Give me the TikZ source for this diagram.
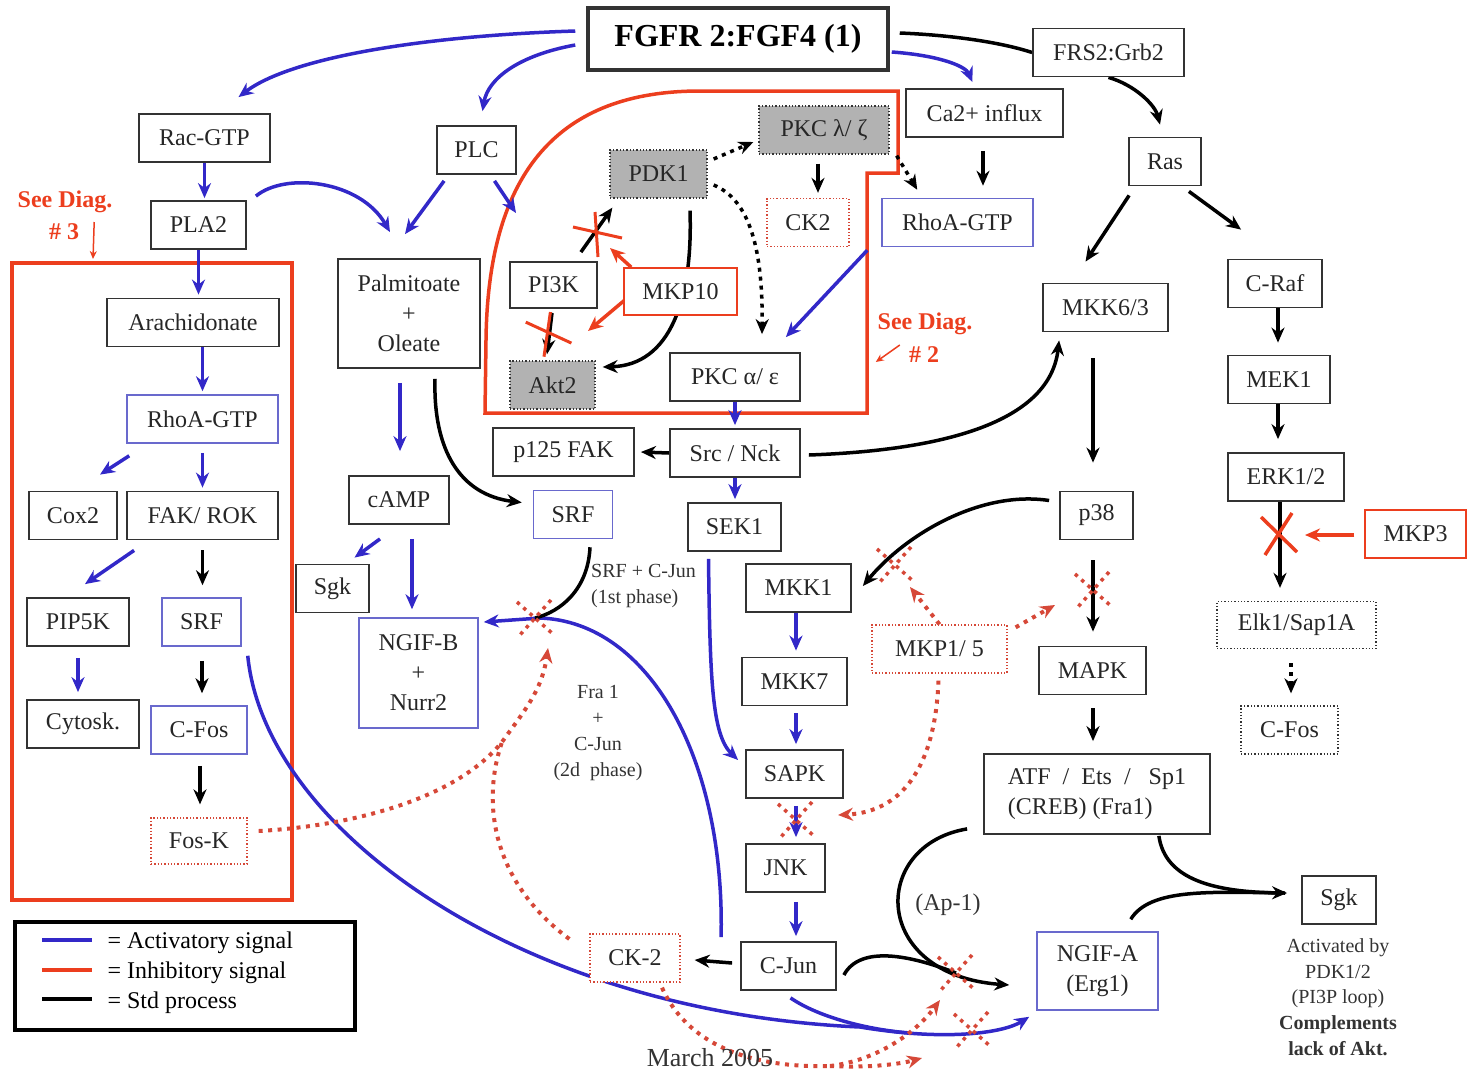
\documentclass[tikz,border=0pt]{standalone}
\usepackage{fontspec}
\setmainfont{Liberation Serif}
\usetikzlibrary{arrows.meta,calc,backgrounds}
\definecolor{actblue}{RGB}{50,40,200}
\definecolor{inhred}{RGB}{236,62,30}
\definecolor{dotred}{RGB}{214,72,56}
\definecolor{boxblue}{RGB}{105,105,205}
\definecolor{boxgrey}{RGB}{178,178,178}

\tikzset{
  box/.style={draw=black!80,line width=1.8pt,fill=white,minimum height=48pt,inner sep=2pt,
    text=black!85,font=\fontsize{24}{30}\selectfont,align=center},
  bluebox/.style={box,draw=boxblue,line width=1.5pt},
  redbox/.style={box,draw=inhred,line width=1.5pt},
  reddotbox/.style={box,draw=dotred,line width=1.3pt,dotted},
  greybox/.style={box,fill=boxgrey,line width=1.3pt,dotted},
  dotbox/.style={box,line width=1.3pt,dotted},
  act/.style={draw=actblue,line width=3.5pt,->},
  std/.style={draw=black,line width=3.5pt,->},
  stddot/.style={std,dash pattern=on 4pt off 5pt},
  inh/.style={draw=inhred,line width=3.5pt,->},
  inhdot/.style={draw=dotred,line width=4pt,dash pattern=on 4pt off 5.5pt,->},
  note/.style={text=black!80,inner sep=0pt,font=\fontsize{20}{25.8}\selectfont,align=center},
  seediag/.style={text=inhred,inner sep=0pt,font=\bfseries\fontsize{24}{29}\selectfont},
  dotx/.pic={\draw[dotred,line width=3.5pt,dash pattern=on 3.5pt off 5pt] (-18,-16)--(18,16) (16,-18)--(-16,18);},
  cutx/.pic={\draw[inhred,line width=3pt] (-24,-6)--(25,5) (-2,-21)--(1,24);},
  bigx/.pic={\draw[inhred,line width=3.5pt] (-19,-16)--(17,19) (12,-20)--(-15,22);},
}

\begin{document}
\begin{tikzpicture}[x=1pt,y=-1pt,>={Stealth[length=15pt,width=13pt]},line join=miter]
\useasboundingbox (0,0) rectangle (1470,1072);

% group outlines
\begin{pgfonlayer}{background}
\node[draw=inhred,line width=4pt,minimum width=280pt,minimum height=637pt] (grpThree) at (152,581.5) {};
\draw[inhred,line width=3.5pt] (485,413) -- (486,340) .. controls (488,170) and (560,91) .. (700,91)
  -- (898,91) -- (898,173) -- (867,173) -- (867,413) -- cycle;
\end{pgfonlayer}

\node[box,line width=3.5pt,minimum width=300pt,minimum height=62pt,text=black,
  font=\bfseries\fontsize{32}{38}\selectfont] (fgfr) at (738,39) {FGFR 2:FGF4 (1)};
\node[box,minimum width=151pt] (frs) at (1108.5,52.5) {FRS2:Grb2};
\node[box,minimum width=157pt] (ca) at (984.5,113) {Ca2+ influx};
\node[box,minimum width=72pt] (ras) at (1165,161.5) {Ras};
\node[bluebox,minimum width=151pt] (rhoR) at (957.5,222.5) {RhoA-GTP};
\node[greybox,minimum width=130pt] (pkcLZ) at (824,130) {PKC λ/ ζ};
\node[greybox,minimum width=97pt] (pdk) at (658.5,174) {PDK1};
\node[reddotbox,minimum width=82pt] (ckTwo) at (808,222.5) {CK2};
\node[box,minimum width=87pt,minimum height=46pt] (pik) at (553.5,285) {PI3K};
\node[redbox,minimum width=113pt,minimum height=47pt] (mkpTen) at (680.5,291.5) {MKP10};
\node[greybox,minimum width=85pt] (akt) at (552.5,385) {Akt2};
\node[box,minimum width=130pt] (pkcAE) at (735,377) {PKC α/ ε};
\node[box,minimum width=131pt] (rac) at (204.5,138) {Rac-GTP};
\node[box,minimum width=95pt] (pla) at (198.5,225) {PLA2};
\node[box,minimum width=79pt] (plc) at (476.5,150) {PLC};
\node[box,minimum width=142pt,minimum height=109pt] (palm) at (409,313.5) {Palmitoate\\+\\Oleate};
\node[box,minimum width=172pt] (arach) at (193,322.5) {Arachidonate};
\node[bluebox,minimum width=151pt] (rhoL) at (202.5,419) {RhoA-GTP};
\node[box,minimum width=88pt] (cox) at (73,515.5) {Cox2};
\node[box,minimum width=151pt] (fak) at (202.5,515.5) {FAK/ ROK};
\node[box,minimum width=102pt] (pip) at (78,622) {PIP5K};
\node[bluebox,minimum width=79pt] (srfL) at (201.5,622) {SRF};
\node[box,minimum width=112pt] (cyto) at (83,724) {Cytosk.};
\node[bluebox,minimum width=96pt] (cfosL) at (199,730) {C-Fos};
\node[reddotbox,minimum width=96pt,minimum height=46pt] (fosk) at (199,841) {Fos-K};
\node[box,minimum width=100pt] (camp) at (399,500) {cAMP};
\node[box,minimum width=73pt] (sgkL) at (332.5,588.5) {Sgk};
\node[bluebox,minimum width=119pt,minimum height=110pt] (ngifB) at (418.5,673) {NGIF-B\\+\\Nurr2};
\node[box,minimum width=141pt] (pfak) at (563.5,452) {p125 FAK};
\node[box,minimum width=130pt] (src) at (735,453) {Src / Nck};
\node[bluebox,minimum width=79pt] (srfC) at (573,514.5) {SRF};
\node[box,minimum width=93pt] (sek) at (734.5,527) {SEK1};
\node[box,minimum width=105pt] (mkkOne) at (798.5,588) {MKK1};
\node[box,minimum width=105pt] (mkkSeven) at (794.5,681.5) {MKK7};
\node[box,minimum width=97pt] (sapk) at (794.5,774) {SAPK};
\node[box,minimum width=79pt] (jnk) at (785.5,868) {JNK};
\node[box,minimum width=95pt] (cjun) at (788.5,966) {C-Jun};
\node[reddotbox,minimum width=90pt] (ckTwoB) at (635,958) {CK-2};
\node[reddotbox,minimum width=135pt] (mkpOneFive) at (939.5,649) {MKP1/ 5};
\node[box,minimum width=125pt] (mkkSixThree) at (1105.5,307.5) {MKK6/3};
\node[box,minimum width=73pt] (pThirtyEight) at (1096.5,515.5) {p38};
\node[box,minimum width=107pt] (mapk) at (1092.5,670.5) {MAPK};
\node[box,minimum width=226pt,minimum height=80pt,align=left] (atf) at (1097,794)
  {ATF \ / \ Ets \ / \ \ Sp1\\(CREB) (Fra1)};
\node[bluebox,minimum width=121pt,minimum height=78pt] (ngifA) at (1097.5,971) {NGIF-A\\(Erg1)};
\node[box,minimum width=74pt] (sgkR) at (1339,900) {Sgk};
\node[box,minimum width=94pt] (craf) at (1275,283.5) {C-Raf};
\node[box,minimum width=102pt] (mek) at (1279,379.5) {MEK1};
\node[box,minimum width=116pt] (erk) at (1286,477) {ERK1/2};
\node[redbox,minimum width=101pt] (mkpThree) at (1415.5,534) {MKP3};
\node[dotbox,minimum width=159pt,minimum height=47pt] (elk) at (1296.5,625) {Elk1/Sap1A};
\node[dotbox,minimum width=97pt] (cfosR) at (1289.5,730) {C-Fos};

% labels
\node[seediag] (see3a) at (65,202) {See Diag.};
\node[seediag] (see3b) at (64,232) {\# 3};
\node[seediag] (see2a) at (925,324) {See Diag.};
\node[seediag] (see2b) at (924,355) {\# 2};
\node[note,align=left,anchor=west] (lblFirst) at (591,586) {SRF + C-Jun\\(1st phase)};
\node[note] (lblSecond) at (598,733) {Fra 1\\+\\C-Jun\\(2d\ \ phase)};
\node[note,font=\fontsize{24}{28}\selectfont] (lblAp) at (948,905) {(Ap-1)};
\node[note,font=\fontsize{26}{30}\selectfont] (dateLbl) at (710,1058) {March 2005};
\node[note] (sgkNote) at (1338,997)
  {Activated by\\PDK1/2\\(PI3P loop)\\\textbf{Complements}\\\textbf{lack of Akt.}};

% legend
\node[draw=black,line width=4pt,minimum width=340pt,minimum height=108pt,inner sep=0pt] (legend) at (185,976) {};
\draw[actblue,line width=4pt] ($(legend.north west)+(29,20)$) -- ++(50,0);
\draw[inhred,line width=4pt] ($(legend.north west)+(29,50)$) -- ++(50,0);
\draw[black,line width=4pt] ($(legend.north west)+(29,79)$) -- ++(50,0);
\node[anchor=west,font=\fontsize{24}{28}\selectfont] (keyAct) at ($(legend.north west)+(91,23)$) {= Activatory signal};
\node[anchor=west,font=\fontsize{24}{28}\selectfont] (keyInh) at ($(legend.north west)+(91,53)$) {= Inhibitory signal};
\node[anchor=west,font=\fontsize{24}{28}\selectfont] (keyStd) at ($(legend.north west)+(91,83)$) {= Std process};

\coordinate (xPdk) at (597,233);
\coordinate (xAkt) at (548,333);
\coordinate (xErk) at (1280,533);
\coordinate (xNgif) at (535,618);
\coordinate (xMkk) at (895,565);
\coordinate (xMapk) at (1093,590);
\coordinate (xJnk) at (796,820);
\coordinate (xAp) at (956,973);
\coordinate (xBlue) at (972,1030);
\coordinate (redJoin) at (502,742);
\coordinate (ckFork) at (830,1066);
\coordinate (blueJoin) at (910,1033);
\coordinate (plcTip) at (516,213);

\begin{pgfonlayer}{background}
% activatory
\draw[act] ($(fgfr.west)+(-11,-8)$) .. controls (420,36) and (290,58) .. ($(rac.north)+(34,-16)$);
\draw[act] ($(fgfr.west)+(-11,6)$) .. controls (520,55) and (488,78) .. ($(plc.north)+(6,-14)$);
\draw[act] ($(fgfr.east)+(2,13)$) .. controls (935,55) and (965,65) .. ($(ca.north)+(-12,-6)$);
\draw[act] (rac.south) -- ($(rac.south |- pla.north)+(0,-2)$);
\draw[act] ($(pla.north east)+(9,-4)$) .. controls (285,172) and (360,180) .. ($(palm.north)+(-19,-26)$);
\draw[act] ($(plc.south west)+(8,6)$) -- ($(palm.north)+(-4,-24)$);
\draw[act] ($(plc.south)+(18,6)$) -- (plcTip);
\draw[act] (pla.south) -- ($(pla.south |- arach.north)+(0,-3)$);
\draw[act] (rhoL.north |- arach.south) -- ($(rhoL.north)+(0,-3)$);
\draw[act] ($(rhoL.south west)+(3,12)$) -- ($(cox.north)+(27,-16)$);
\draw[act] ($(rhoL.south)+(0,9)$) -- ($(fak.north)+(0,-3)$);
\draw[act] ($(fak.south west)+(8,10)$) -- ($(pip.north)+(7,-13)$);
\draw[act] ($(pip.south)+(0,11)$) -- ($(pip.south |- cyto.north)+(0,-7)$);
\draw[act] ($(srfL.south east)+(6,9)$) .. controls (265,830) and (520,1012) .. (860,1027)
  .. controls (950,1042) and (1005,1032) .. ($(ngifA.south west)+(-7,6)$);
\draw[act,-] ($(cjun.south)+(2,7)$) .. controls (820,1018) and (870,1030) .. (blueJoin);
\draw[act] ($(palm.south)+(-9,14)$) -- ($(camp.north)+(1,-24)$);
\draw[act] ($(camp.south)+(-19,14)$) -- ($(sgkL.north)+(22,-6)$);
\draw[act] ($(camp.south)+(13,14)$) -- ($(ngifB.north)+(-6.5,-8)$);
\draw[act] (pkcAE.south) -- ($(src.north)+(0,-3)$);
\draw[act] (src.south) -- ($(sek.north)+(0.5,-3)$);
\draw[act] ($(sek.south)+(-26,7)$) .. controls (710,680) and (712,735) .. ($(sapk.west)+(-7,-14)$);
\draw[act] ($(mkkOne.south)+(-2.5,0)$) -- ($(mkkSeven.north)+(1.5,-6)$);
\draw[act] ($(mkkSeven.south)+(1.5,7)$) -- ($(sapk.north)+(1.5,-5)$);
\draw[act] ($(sapk.south)+(1.5,7)$) -- ($(jnk.north)+(10.5,-6)$);
\draw[act] ($(jnk.south)+(10.5,9)$) -- ($(cjun.north)+(7.5,-5)$);
\draw[act] ($(cjun.north west)+(-19,-4)$) .. controls (725,760) and (650,622) .. (540,618) -- ($(ngifB.east)+(5,-51)$);
\draw[act] ($(rhoR.south west)+(-14,3)$) -- ($(pkcAE.north east)+(-15,-15)$);

% standard process
\draw[line width=3.5pt] ($(fgfr.east)+(10,-6)$) .. controls (950,35) and (1000,42) .. (frs.west);
\draw[std] (frs.south) .. controls (1135,85) and (1155,105) .. ($(ras.north)+(-5,-12)$);
\draw[std] ($(ca.south)+(-1.5,13)$) -- ($(rhoR.north)+(25.5,-12)$);
\draw[std] ($(ras.south west)+(1,9)$) -- ($(mkkSixThree.north)+(-20,-21)$);
\draw[std] ($(ras.south east)+(-13,5)$) -- ($(craf.north west)+(14,-29)$);
\draw[std] ($(craf.south)+(3,0)$) -- ($(mek.north)+(-1,-12)$);
\draw[std] ($(mek.south)+(-1,0)$) -- ($(erk.north)+(-8,-13)$);
\draw[std] ($(erk.south)+(-6,0)$) -- ($(elk.north)+(-16.5,-13)$);
\draw[stddot] ($(elk.south)+(-5.5,14)$) -- ($(cfosR.north)+(1.5,-12)$);
\draw[std] ($(mkkSixThree.south)+(-12.5,26)$) -- ($(pThirtyEight.north)+(-3.5,-28)$);
\draw[std] ($(src.east)+(8,2)$) .. controls (950,450) and (1050,420) .. ($(mkkSixThree.south west)+(17,8)$);
\draw[std] (src.west) -- ($(pfak.east)+(6,0)$);
\draw[std] ($(pThirtyEight.west)+(-10,-15)$) .. controls (980,490) and (905,535) .. ($(mkkOne.east)+(11,-2)$);
\draw[std] ($(pThirtyEight.south)+(-3.5,20)$) -- ($(mapk.north)+(0.5,-14)$);
\draw[std] ($(mapk.south)+(0.5,13)$) -- ($(atf.north)+(-4,-12)$);
\draw[std] ($(atf.south east)+(-52,1)$) .. controls (1165,880) and (1215,892) .. ($(sgkR.west)+(-14,-7)$);
\draw[line width=3.5pt] ($(ngifA.north east)+(-28,-12)$) .. controls (1150,888) and (1210,892) .. ($(sgkR.west)+(-16,-7)$);
\draw[std] ($(atf.south west)+(-16,-6)$) .. controls (870,845) and (870,975) .. ($(ngifA.west)+(-27,14)$);
\draw[line width=3.5pt] ($(cjun.east)+(7,9)$) .. controls (860,945) and (910,955) .. (xAp);
\draw[std] ($(palm.south)+(26,10)$) .. controls (433,450) and (460,495) .. ($(srfC.west)+(-11,-12)$);
\draw[line width=3.5pt] ($(srfC.south)+(17,8)$) .. controls (588,590) and (560,612) .. (xNgif);
\draw[std] ($(fak.south)+(0,10)$) -- ($(srfL.north)+(1,-12)$);
\draw[std] ($(srfL.south)+(0.5,14)$) -- ($(cfosL.north)+(3,-12)$);
\draw[std] ($(cfosL.south)+(1,11)$) -- ($(fosk.north)+(1,-13)$);
\draw[std] ($(cjun.west)+(-8,-3)$) -- ($(ckTwoB.east)+(14,2)$);
\draw[std] ($(pkcLZ.south)+(-6,9)$) -- ($(ckTwo.north)+(10,-5)$);
\draw[std] ($(pdk.south)+(31.5,12)$) .. controls (693,300) and (670,365) .. ($(akt.east)+(7,-18)$);
\draw[std] ($(pik.north east)+(-17,-9)$) -- ($(pdk.south west)+(3,9)$);
\draw[std] ($(pik.south)+(-1.5,4)$) -- ($(akt.north)+(-5.5,-6)$);
\draw[stddot] ($(pdk.east)+(6,-15)$) -- ($(pkcLZ.west)+(-5,12)$);
\draw[stddot] ($(pdk.east)+(6,11)$) .. controls (750,200) and (763,250) .. ($(pkcAE.north)+(27,-18)$);
\draw[stddot] ($(pkcLZ.south east)+(7,1)$) -- ($(rhoR.north west)+(36,-8)$);

% inhibitory
\draw[inh] ($(mkpTen.north west)+(8,0)$) -- ($(xPdk)+(13,15)$);
\draw[inh] ($(mkpTen.west)+(1,9)$) -- ($(xAkt)+(40,-2)$);
\draw[inh] ($(mkpThree.west)+(-10,1)$) -- ($(xErk)+(25,2)$);
\draw[inh,line width=1.5pt,-{Stealth[length=8pt,width=7pt]}] ($(see3b.east)+(15,-10)$) -- ($(grpThree.north west)+(83,-2)$);
\draw[inh,line width=1.5pt,-{Stealth[length=8pt,width=7pt]}] ($(see2b.west)+(-9,-10)$) -- ++(-24,17);
\draw[inhdot] ($(fosk.east)+(11,-10)$) .. controls (350,826) and (455,800) .. (redJoin)
  .. controls (525,710) and (542,690) .. ($(xNgif)+(13,30)$);
\draw[inhdot,-] ($(ckTwoB.west)+(-20,-19)$) .. controls (490,880) and (482,800) .. (redJoin);
\draw[inhdot,-] ($(ckTwoB.south)+(27,5)$) .. controls (690,1050) and (760,1068) .. (ckFork);
\draw[inhdot] (ckFork) .. controls (880,1060) and (918,1030) .. ($(xAp)+(-16,27)$);
\draw[inhdot] (ckFork) .. controls (870,1068) and (900,1064) .. ($(xBlue)+(-50,28)$);
\draw[inhdot] (mkpOneFive.north) -- ($(xMkk)+(15,22)$);
\draw[inhdot] ($(mkpOneFive.north east)+(8,3)$) -- ($(xMapk)+(-38,15)$);
\draw[inhdot] ($(mkpOneFive.south)+(-1,7)$) .. controls (935,770) and (900,812) .. ($(xJnk)+(42,-5)$);

\pic at (xPdk) {cutx};
\pic[rotate=-12] at (xAkt) {cutx};
\pic at (xErk) {bigx};
\pic at (xNgif) {dotx};
\pic at (xMkk) {dotx};
\pic at (xMapk) {dotx};
\pic at (xJnk) {dotx};
\pic at (xAp) {dotx};
\pic at (xBlue) {dotx};
\end{pgfonlayer}
\end{tikzpicture}
\end{document}
